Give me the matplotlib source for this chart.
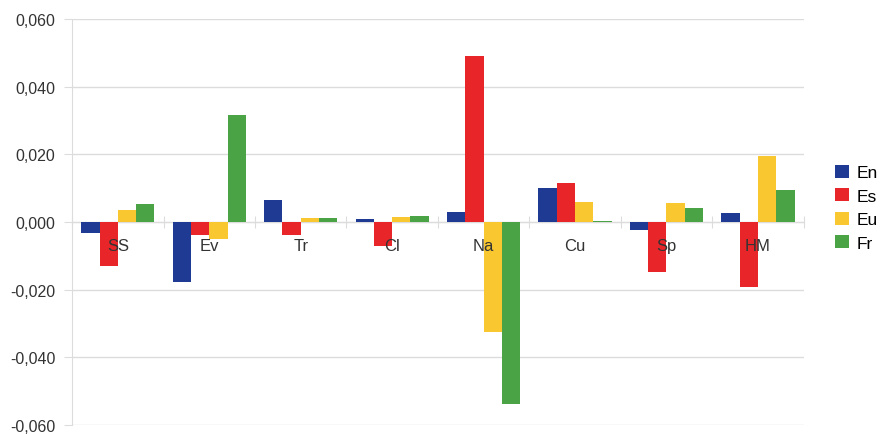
import matplotlib
matplotlib.use("Agg")
import matplotlib.pyplot as plt
import numpy as np

plt.rcParams['font.family'] = ['Liberation Sans', 'DejaVu Sans']

categories = ["SS", "Ev", "Tr", "Cl", "Na", "Cu", "Sp", "HM"]
series_names = ["En", "Es", "Eu", "Fr"]
en = [-0.0033, -0.0177, 0.0065, 0.0008, 0.0030, 0.0101, -0.0025, 0.0026]
es = [-0.0130, -0.0040, -0.0038, -0.0072, 0.0490, 0.0115, -0.0148, -0.0193]
eu = [0.0035, -0.0050, 0.0012, 0.0015, -0.0325, 0.0059, 0.0055, 0.0195]
fr = [0.0053, 0.0316, 0.0011, 0.0019, -0.0537, 0.0002, 0.0042, 0.0093]
yticks = [-0.06, -0.04, -0.02, 0.0, 0.02, 0.04, 0.06]

colors = ["#1f3a93", "#e8262a", "#f9c72f", "#4aa446"]
grid_col = "#dcdcdc"
text_col = "#333333"

fig = plt.figure(figsize=(8.9, 4.35), dpi=100)
ax = fig.add_axes([0.081, 0.021, 0.822, 0.933])

x = np.arange(len(categories))
w = 0.2
for i, (vals, name) in enumerate(zip([en, es, eu, fr], series_names)):
    ax.bar(x + (i - 1.5) * w, vals, w, color=colors[i], label=name, zorder=3)

ax.set_xlim(-0.5, len(categories) - 0.5)
ax.set_ylim(-0.06, 0.06)
ax.set_yticks(yticks)
ax.set_yticklabels([("%.3f" % v).replace(".", ",") for v in yticks],
                   fontsize=11.5, color=text_col)
ax.yaxis.grid(True, color=grid_col, lw=1, zorder=0)

for s in ["top", "right"]:
    ax.spines[s].set_visible(False)
ax.spines["left"].set_color(grid_col)
ax.spines["bottom"].set_position(("data", 0))
ax.spines["bottom"].set_color(grid_col)
ax.spines["bottom"].set_zorder(2)
ax.tick_params(axis="y", length=6, color=grid_col, pad=6)

# category separators on the zero line
ax.set_xticks(np.arange(len(categories) + 1) - 0.5)
ax.set_xticklabels([])
ax.tick_params(axis="x", direction="inout", length=8, color=grid_col)

# category labels sit just under the zero line, drawn over the bars
for xi, cat in zip(x, categories):
    ax.text(xi, -0.0071, cat, ha="center", va="center", fontsize=12,
            color=text_col, zorder=5)

ax.legend(loc="center left", bbox_to_anchor=(1.022, 0.535), frameon=False,
          fontsize=12.5, handlelength=0.8, handleheight=0.8, handletextpad=0.4,
          labelspacing=0.45)

fig.savefig("out.png", dpi=100)
